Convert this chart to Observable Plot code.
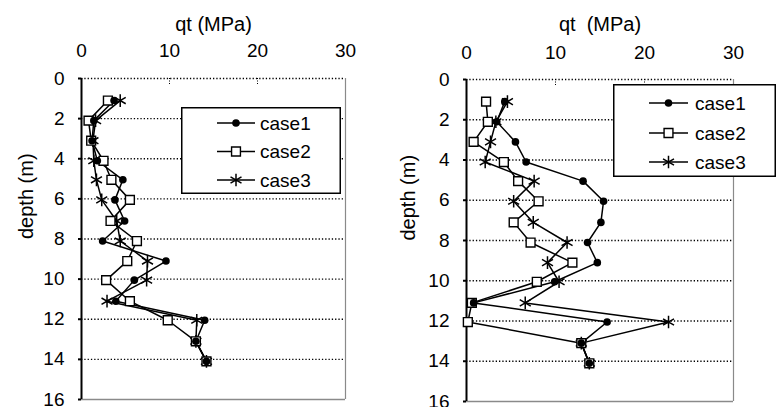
<!DOCTYPE html>
<html>
<head>
<meta charset="utf-8">
<script src="https://cdn.jsdelivr.net/npm/d3@7"></script>
<script src="https://cdn.jsdelivr.net/npm/@observablehq/plot@0.6"></script>
<style>
  html, body { margin: 0; padding: 0; background: white; }
  #wrap { position: relative; width: 783px; height: 407px; overflow: hidden; font-family: "Liberation Sans", Arial, sans-serif; }
  .panel { position: absolute; top: 0; }
  .legend { position: absolute; }
</style>
</head>
<body>
<div id="wrap"></div>
<script>
// ---- data ----
const depths = [1.1, 2.1, 3.1, 4.1, 5.05, 6.05, 7.1, 8.1, 9.1, 10.05, 11.1, 12.05, 13.1, 14.1];
const seriesNames = ["case1", "case2", "case3"];
const xTicks = [0, 10, 20, 30];
const yTicks = [0, 2, 4, 6, 8, 10, 12, 14, 16];
const gridDepths = [0, 2, 4, 6, 8, 10, 12, 14];

// left panel
const leftCase1 = [3.7, 1.4, 1.2, 1.8, 4.7, 3.8, 4.9, 2.4, 9.6, 6.0, 3.9, 14.0, 13.0, 14.2];
const leftCase2 = [3.0, 0.8, 1.1, 2.5, 3.4, 5.5, 3.3, 6.3, 5.2, 2.8, 5.5, 9.8, 13.0, 14.2];
const leftCase3 = [4.4, 1.6, 1.3, 1.4, 1.7, 2.3, 4.0, 4.4, 7.5, 7.4, 2.9, 13.1, 13.0, 14.2];

// right panel
const rightCase1 = [4.3, 3.4, 5.5, 6.7, 13.1, 15.4, 15.1, 13.6, 14.7, 9.9, 0.8, 15.8, 12.9, 13.8];
const rightCase2 = [2.2, 2.4, 0.8, 4.2, 5.8, 8.1, 5.3, 7.2, 11.9, 7.9, 0.6, 0.15, 12.9, 13.8];
const rightCase3 = [4.6, 3.3, 2.7, 2.1, 7.6, 5.3, 7.5, 11.3, 9.1, 10.4, 6.6, 22.7, 12.9, 13.8];

const xTitleLeft = "qt (MPa)";
const xTitleRight = "qt  (MPa)";
const yTitle = "depth (m)";

const FONT = '"Liberation Sans", Arial, sans-serif';

function rows(values, name) {
  return depths.map((d, i) => ({depth: d, qt: values[i], series: name}));
}

function makePanel(o) {
  const s1 = rows(o.c1, "case1"), s2 = rows(o.c2, "case2"), s3 = rows(o.c3, "case3");
  return Plot.plot({
    width: o.width, height: 407,
    marginLeft: o.ml, marginRight: o.mr, marginTop: o.mt, marginBottom: o.mb,
    style: {fontFamily: FONT, fontSize: "19px", color: "black", background: "white", overflow: "visible"},
    x: {domain: [0, 30]},
    y: {domain: [0, 16], reverse: true},
    marks: [
      Plot.ruleY(gridDepths, {x1: 0, x2: 30, stroke: "black", strokeWidth: 1.4, strokeDasharray: "1.3,2"}),
      Plot.ruleX([10, 20], {y1: 0, y2: 0.3, stroke: "black", strokeWidth: 1, strokeDasharray: "1,1.5"}),
      Plot.ruleX([30], {y1: 0, y2: 16, stroke: "#8a8a8a", strokeWidth: 1.2}),
      Plot.ruleY([16], {x1: 0, x2: 30, stroke: "#8a8a8a", strokeWidth: 1.5}),
      Plot.axisX({anchor: "top", ticks: xTicks, tickSize: 0, tickPadding: o.xpad, label: null, fontSize: 19}),
      Plot.axisY({anchor: "left", ticks: yTicks, tickSize: 3, tickPadding: 14, tickFormat: d => String(d), label: null, fontSize: 19, strokeWidth: 2}),
      Plot.ruleX([0], {y1: 0, y2: 16, stroke: "black", strokeWidth: 2}),
      Plot.text([o.xTitle], {frameAnchor: "top", dy: o.titleDy, fontSize: 20, lineAnchor: "middle"}),
      Plot.text([yTitle], {frameAnchor: "left", dx: o.ylabDx, rotate: -90, fontSize: 20, lineAnchor: "middle"}),
      Plot.line(s1, {x: "qt", y: "depth", stroke: "black", strokeWidth: 1.5}),
      Plot.line(s2, {x: "qt", y: "depth", stroke: "black", strokeWidth: 1.5}),
      Plot.line(s3, {x: "qt", y: "depth", stroke: "black", strokeWidth: 1.5}),
      Plot.dot(s3, {x: "qt", y: "depth", symbol: "asterisk", r: 6, stroke: "black", strokeWidth: 1.5}),
      Plot.dot(s2, {x: "qt", y: "depth", symbol: "square", r: 5, fill: "white", stroke: "black", strokeWidth: 1.4}),
      Plot.dot(s1, {x: "qt", y: "depth", symbol: "circle", r: 3.8, fill: "black", stroke: "none"})
    ]
  });
}

function makeLegend(l) {
  const ns = "http://www.w3.org/2000/svg";
  const svg = document.createElementNS(ns, "svg");
  svg.setAttribute("width", l.w);
  svg.setAttribute("height", l.h);
  svg.setAttribute("class", "legend");
  svg.style.left = l.x + "px";
  svg.style.top = l.y + "px";
  const sym = [d3.symbolCircle, d3.symbolSquare, d3.symbolAsterisk];
  const sizes = [Math.PI * 3.8 * 3.8, Math.PI * 25, Math.PI * 36];
  let html = `<rect x="0.75" y="0.75" width="${l.w - 1.5}" height="${l.h - 1.5}" fill="white" stroke="black" stroke-width="1.5"/>`;
  seriesNames.forEach((name, i) => {
    const cy = l.rows[i];
    const cx = (l.lx1 + l.lx2) / 2;
    const path = d3.symbol(sym[i], sizes[i])();
    const style = i === 0 ? 'fill="black"' : i === 1 ? 'fill="white" stroke="black" stroke-width="1.4"' : 'fill="none" stroke="black" stroke-width="1.5"';
    html += `<line x1="${l.lx1}" x2="${l.lx2}" y1="${cy}" y2="${cy}" stroke="black" stroke-width="1.5"/>`;
    html += `<path transform="translate(${cx},${cy})" d="${path}" ${style}/>`;
    html += `<text x="${l.tx}" y="${cy}" dy="0.35em" font-family='${FONT}' font-size="19">${name}</text>`;
  });
  svg.innerHTML = html;
  return svg;
}

const wrap = document.getElementById("wrap");

const left = makePanel({c1: leftCase1, c2: leftCase2, c3: leftCase3, width: 390, ml: 81, mr: 45, mt: 78, mb: 8, xpad: 22, titleDy: -54, ylabDx: -54.5, xTitle: xTitleLeft});
left.classList.add("panel");
left.style.left = "0px";
wrap.appendChild(left);

const right = makePanel({c1: rightCase1, c2: rightCase2, c3: rightCase3, width: 393, ml: 76, mr: 50, mt: 79, mb: 6, xpad: 21, titleDy: -55, ylabDx: -57.5, xTitle: xTitleRight});
right.classList.add("panel");
right.style.left = "390px";
wrap.appendChild(right);

wrap.appendChild(makeLegend({x: 181, y: 107, w: 160, h: 87, lx1: 36, lx2: 74, tx: 79, rows: [16, 44.5, 73]}));
wrap.appendChild(makeLegend({x: 613, y: 84, w: 163, h: 93, lx1: 36, lx2: 75, tx: 82, rows: [19, 49, 78]}));
</script>
</body>
</html>
